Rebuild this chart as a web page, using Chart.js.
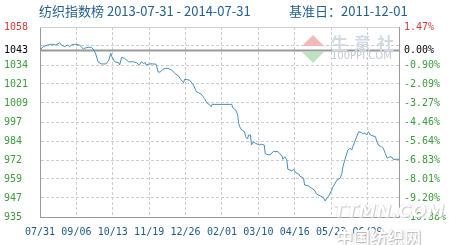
<!DOCTYPE html>
<html>
<head>
<meta charset="utf-8">
<script src="https://cdn.jsdelivr.net/npm/chart.js@4.4.1/dist/chart.umd.min.js"></script>
<style>
  html, body { margin: 0; padding: 0; background: #fff; }
  #wrap { position: relative; width: 449px; height: 245px; overflow: hidden; }
  #title { position: absolute; left: 39px; top: 3px; font: 13px "Noto Sans CJK SC", sans-serif; color: #24608c; white-space: nowrap; line-height: 16px; }
  #title .base { position: absolute; left: 250px; top: 0; }
  .wm { position: absolute; white-space: nowrap; }
  #wm1 { left: 331px; top: 30px; font: bold 17px "Noto Sans CJK SC", sans-serif; color: #d3d9e3; letter-spacing: 6px; }
  #wm2 { left: 331px; top: 50px; font: 10px "DejaVu Sans", sans-serif; color: #c4c8d0; }
  #tri1 { left: 302px; top: 35px; width: 0; height: 0; border-left: 11px solid transparent; border-right: 11px solid transparent; border-bottom: 11px solid #f2b9b9; }
  #tri2 { left: 302px; top: 52px; width: 0; height: 0; border-left: 11px solid transparent; border-right: 11px solid transparent; border-top: 11px solid #bfe3c0; }
  #wm3 { left: 333px; top: 200px; font: italic bold 18px "DejaVu Sans", sans-serif; color: #fff; text-shadow: 0 0 1px #bbb, 1px 1px 1px #ccc; }
  #wm4 { left: 336px; top: 224px; font: bold 17px "Noto Sans CJK SC", sans-serif; color: #fff; text-shadow: 0 0 1px #aaa, 1px 1px 1px #bbb; }
</style>
</head>
<body>
<div id="wrap">
  <canvas id="chart" width="449" height="245"></canvas>
  <div id="title">纺织指数榜 2013-07-31 - 2014-07-31<span class="base">基准日：2011-12-01</span></div>
  <div class="wm" id="tri1"></div>
  <div class="wm" id="tri2"></div>
  <div class="wm" id="wm1">生意社</div>
  <div class="wm" id="wm2">100PPI.COM</div>
  <div class="wm" id="wm3">TTMN.COM</div>
  <div class="wm" id="wm4">中国纺织网</div>
</div>
<script>
// days since 2013-07-31
const days = [0, 3, 8, 13, 16, 20, 22, 25, 28, 30, 32, 35, 40, 42, 44, 45, 49, 52, 55, 57,
  59, 62, 67, 70, 72, 73, 76, 80, 81, 83, 86, 90, 95, 98, 101, 103, 105, 107, 108, 111,
  115, 118, 120, 122, 125, 127, 130, 134, 137, 141, 143, 146, 147, 152, 156, 159, 164, 167, 170, 172,
  174, 175, 195, 196, 199, 201, 202, 203, 205, 208, 209, 211, 212, 214, 215, 217, 219, 223, 225, 228,
  229, 234, 237, 242, 246, 247, 249, 251, 252, 256, 258, 260, 263, 264, 268, 269, 273, 276, 279, 281,
  285, 288, 290, 291, 293, 295, 298, 302, 305, 307, 308, 310, 312, 313, 315, 317, 318, 320, 322, 324,
  327, 329, 330, 332, 334, 336, 341, 342, 344, 347, 349, 351, 353, 356, 358, 359, 365];

const indexValues = [1043.3, 1045.7, 1046.8, 1047.3, 1046.8, 1048.3, 1046.8, 1045.7, 1046.8, 1045.7, 1046.8, 1047.3, 1046.8, 1045.7, 1044.0, 1044.6, 1045.3, 1045.3, 1043.5, 1040.3,
  1035.9, 1034.5, 1034.5, 1037.0, 1041.4, 1039.2, 1035.9, 1035.3, 1033.8, 1038.8, 1038.1, 1035.9, 1035.9, 1035.3, 1033.8, 1035.9, 1034.9, 1035.3, 1033.8, 1034.5,
  1034.5, 1034.3, 1029.4, 1029.1, 1031.0, 1031.6, 1031.6, 1030.5, 1028.4, 1026.6, 1024.5, 1022.3, 1024.5, 1024.0, 1020.8, 1016.4, 1014.9, 1012.1, 1008.9, 1008.2,
  1006.7, 1008.2, 1008.2, 1006.0, 1004.5, 1001.3, 995.9, 993.7, 991.5, 990.4, 987.2, 985.7, 988.3, 988.3, 981.8, 983.9, 982.9, 981.8, 982.3, 981.8,
  976.0, 975.3, 977.5, 977.5, 974.7, 972.5, 974.2, 972.1, 966.0, 965.1, 966.0, 963.8, 963.0, 961.7, 960.2, 955.8, 955.2, 953.7, 952.6, 950.0,
  948.7, 947.7, 945.4, 946.7, 948.2, 950.4, 954.7, 959.1, 960.2, 963.4, 967.7, 972.1, 976.4, 978.6, 979.7, 978.6, 980.7, 983.9, 987.2, 990.4,
  989.8, 988.9, 989.8, 988.3, 990.4, 988.3, 987.2, 985.0, 981.8, 980.7, 979.7, 976.4, 973.2, 974.2, 973.8, 972.5, 972.5];

// x axis ticks (every 37 days)
const xTickDays = [0, 37, 74, 111, 148, 185, 222, 259, 296, 333];
const xTickLabels = ['07/31', '09/06', '10/13', '11/19', '12/26', '02/01', '03/10', '04/16', '05/23', '06/29'];

// y axis ticks
const yTickValues = [935, 947.35, 959.7, 972.05, 984.4, 996.75, 1009.1, 1021.45, 1033.8, 1046.15, 1058.5];
const leftTickLabels = ['935', '947', '959', '972', '984', '997', '1009', '1021', '1034', '', '1058'];
const rightTickLabels = ['-10.38%', '-9.20%', '-8.01%', '-6.83%', '-5.64%', '-4.46%', '-3.27%', '-2.09%', '-0.90%', '', '1.47%'];
const baseValue = 1043.3;
const baseLeftLabel = '1043';
const baseRightLabel = '0.00%';

const tickFont = { family: 'DejaVu Sans Mono', size: 10 };

function labelColor(c) {
    const v = c.tick ? c.tick.value : null;
    if (v === baseValue) return '#000';
    if (v === yTickValues[yTickValues.length - 1]) return '#d23a3a';
    return '#3c9a3c';
}

function setYTicks(scale) {
    const list = yTickValues.slice();
    list.push(baseValue);
    list.sort((a, b) => a - b);
    scale.ticks = list.map(v => ({ value: v }));
}

function gridColor(c) {
    if (!c.tick) return '#ccc';
    if (c.tick.value === baseValue) return 'rgba(0,0,0,0)';
    return '#ccc';
}

// solid base line and frame
const framePlugin = {
    id: 'frame',
    beforeDatasetsDraw(chart) {
        const ctx = chart.ctx;
        const area = chart.chartArea;
        const y = Math.round(chart.scales.y.getPixelForValue(baseValue)) + 0.5;
        ctx.save();
        ctx.strokeStyle = '#cfcfcf';
        ctx.lineWidth = 1;
        ctx.beginPath();
        ctx.moveTo(area.left, Math.round(area.top) + 0.5);
        ctx.lineTo(area.right, Math.round(area.top) + 0.5);
        ctx.stroke();
        ctx.strokeStyle = '#999';
        ctx.lineWidth = 2;
        ctx.beginPath();
        ctx.moveTo(area.left, y);
        ctx.lineTo(area.right, y);
        ctx.stroke();
        ctx.restore();
    }
};

new Chart(document.getElementById('chart'), {
    type: 'line',
    data: {
        datasets: [{
            data: days.map((d, i) => ({ x: d, y: indexValues[i] })),
            borderColor: '#4a8cbb',
            borderWidth: 1,
            pointRadius: 0,
            tension: 0,
            fill: false
        }]
    },
    options: {
        responsive: false,
        animation: false,
        layout: { padding: { left: 4, top: 27, right: 0, bottom: 0 } },
        plugins: { legend: { display: false }, tooltip: { enabled: false } },
        scales: {
            x: {
                type: 'linear',
                min: 0,
                max: 365,
                afterBuildTicks: s => { s.ticks = xTickDays.map(v => ({ value: v })); },
                afterFit: s => { s.height = 28; },
                ticks: {
                    autoSkip: false,
                    maxRotation: 0,
                    padding: 9,
                    color: '#1d5a85',
                    font: tickFont,
                    callback: (v) => xTickLabels[xTickDays.indexOf(v)]
                },
                grid: { color: '#ccc', drawTicks: false },
                border: { color: '#999', width: 1, dash: [3, 2] }
            },
            y: {
                position: 'left',
                min: 935,
                max: 1058.5,
                afterBuildTicks: setYTicks,
                afterFit: s => { s.width = 36; },
                ticks: {
                    crossAlign: 'far',
                    padding: 0,
                    color: labelColor,
                    font: tickFont,
                    callback: (v) => v === baseValue ? baseLeftLabel : leftTickLabels[yTickValues.indexOf(v)]
                },
                grid: { color: gridColor, drawTicks: false },
                border: { color: '#999', width: 1, dash: [3, 2] }
            },
            y2: {
                position: 'right',
                min: 935,
                max: 1058.5,
                afterBuildTicks: setYTicks,
                afterFit: s => { s.width = 50; },
                ticks: {
                    padding: 5,
                    color: labelColor,
                    font: tickFont,
                    callback: (v) => v === baseValue ? baseRightLabel : rightTickLabels[yTickValues.indexOf(v)]
                },
                grid: { drawOnChartArea: false, drawTicks: false },
                border: { color: '#999', width: 1 }
            }
        }
    },
    plugins: [framePlugin]
});
</script>
</body>
</html>
